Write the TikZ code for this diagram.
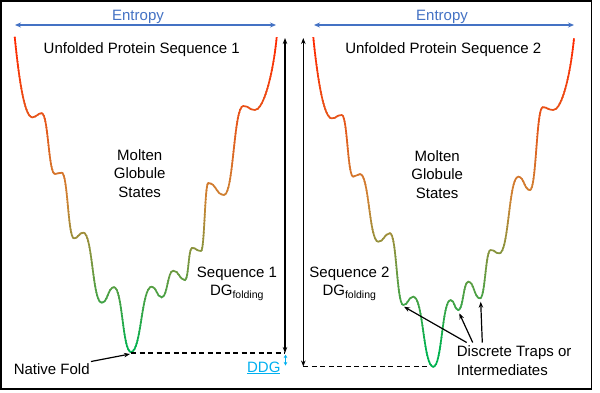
\documentclass[tikz,border=0pt]{standalone}
\usepackage{fontspec}
\setmainfont{Liberation Sans}
\usetikzlibrary{arrows.meta}
\definecolor{entblue}{RGB}{68,114,196}
\definecolor{ddgcyan}{RGB}{0,176,240}
\definecolor{ctop}{RGB}{255,40,0}
\definecolor{cmid}{RGB}{205,132,52}
\definecolor{cbot}{RGB}{0,178,80}
\tikzset{
  curvestyle/.style={line width=1.7pt},
  entarrow/.style={draw=entblue, line width=1.6pt, {Stealth[length=6pt,width=5pt]}-{Stealth[length=6pt,width=5pt]}},
  blkarrow/.style={draw=black, line width=1.3pt, {Stealth[length=6pt,width=4.5pt]}-{Stealth[length=6pt,width=4.5pt]}},
  onearrow/.style={draw=black, line width=1.2pt, -{Stealth[length=6pt,width=4.5pt]}},
  ddgarrow/.style={draw=ddgcyan, line width=1.2pt, {Stealth[length=3.5pt,width=3.5pt]}-{Stealth[length=3.5pt,width=3.5pt]}},
  dashline/.style={draw=black, line width=1.1pt, dash pattern=on 5pt off 3.5pt},
  lbl/.style={inner sep=0pt, text=black},
  curveL/.style={insert path={(14.7,36.7) .. controls +(4,40) and +(-8,0) .. (32.3,117.3)
   .. controls +(4.7,0) and +(-4.7,0) .. (41.7,113.3)
   .. controls +(6.6,0) and +(-6.6,0) .. (55,174)
   .. controls +(3.3,0) and +(-3.3,0) .. (61.7,172.7)
   .. controls +(6.1,0) and +(-6.1,0) .. (74,238.3)
   .. controls +(4.6,0) and +(-4.6,0) .. (83.3,232.7)
   .. controls +(9.2,0) and +(-9.2,0) .. (101.7,302.7)
   .. controls +(6.1,0) and +(-6.1,0) .. (114,287.3)
   .. controls +(8.5,0) and +(-8.5,0) .. (131,352)
   .. controls +(10.3,0) and +(-10.3,0) .. (151.7,286.7)
   .. controls +(5,0) and +(-5,0) .. (161.7,297.3)
   .. controls +(5.8,0) and +(-5.8,0) .. (173.3,270.7)
   .. controls +(5.8,0) and +(-5.8,0) .. (185,280)
   .. controls +(3.5,0) and +(-3.5,0) .. (192,248)
   .. controls +(4.5,0) and +(-4.5,0) .. (201,251)
   .. controls +(3.6,0) and +(-3.6,0) .. (208.3,183)
   .. controls +(7.8,0) and +(-7.8,0) .. (224,195)
   .. controls +(9.6,0) and +(-9.6,0) .. (243.3,106)
   .. controls +(5.8,0) and +(-5.8,0) .. (255,110)
   .. controls +(8,0) and +(-4,40) .. (276.7,37.3)}},
  curveR/.style={insert path={(313.3,37.3) .. controls +(4,40) and +(-8,0) .. (331.7,118.3)
   .. controls +(5,0) and +(-5,0) .. (341.7,115)
   .. controls +(5.8,0) and +(-5.8,0) .. (353.3,176.7)
   .. controls +(3.3,0) and +(-3.3,0) .. (360,174)
   .. controls +(9.1,0) and +(-9.1,0) .. (378.3,241.7)
   .. controls +(5.8,0) and +(-5.8,0) .. (390,233.3)
   .. controls +(6.6,0) and +(-6.6,0) .. (403.3,305)
   .. controls +(5,0) and +(-5,0) .. (413.3,296.7)
   .. controls +(10,0) and +(-10,0) .. (433.3,366.7)
   .. controls +(8.7,0) and +(-8.7,0) .. (450.7,300)
   .. controls +(3.8,0) and +(-3.8,0) .. (458.3,310)
   .. controls +(5,0) and +(-5,0) .. (468.3,281.7)
   .. controls +(5.8,0) and +(-5.8,0) .. (480,298.3)
   .. controls +(5.3,0) and +(-5.3,0) .. (490.7,250)
   .. controls +(4.3,0) and +(-4.3,0) .. (499.3,253.3)
   .. controls +(9.5,0) and +(-9.5,0) .. (518.3,176.7)
   .. controls +(5.8,0) and +(-5.8,0) .. (530,190)
   .. controls +(6.3,0) and +(-6.3,0) .. (542.7,107.3)
   .. controls +(5.3,0) and +(-5.3,0) .. (553.3,110)
   .. controls +(8,0) and +(-4,40) .. (574,38.3)}}
}
\begin{document}
\begin{tikzpicture}[x=1pt,y=-1pt,font=\fontsize{15}{18.35}\selectfont]
\useasboundingbox (0,0) rectangle (600,392);
\fill[white] (0,0) rectangle (600,392);
% frame
\draw[line width=1.8pt] (0.9,0.9) rectangle (591.5,389);

% gradient curves (banded)
\foreach \yy in {28,31,...,373} {
  \pgfmathsetmacro{\yc}{\yy+1.5}
  \pgfmathtruncatemacro{\pa}{max(0,min(100,(\yc-37)/(200-37)*100))}
  \pgfmathtruncatemacro{\pb}{max(0,min(100,(\yc-200)/(350-200)*100))}
  \colorlet{tmpA}{cmid!\pa!ctop}
  \colorlet{bandc}{cbot!\pb!tmpA}
  \begin{scope}
    \clip (0,\yy) rectangle (600,\yy+3.3);
    \draw[curvestyle, draw=bandc, curveL];
    \draw[curvestyle, draw=bandc, curveR];
  \end{scope}
}

% entropy
\node[lbl, text=entblue, anchor=base] (entL) at (138,20) {Entropy};
\node[lbl, text=entblue, anchor=base] (entR) at (442,20) {Entropy};
\coordinate (eLa) at (15,25); \coordinate (eLb) at (276,25);
\coordinate (eRa) at (314,25); \coordinate (eRb) at (574,25);
\draw[entarrow] (eLa) -- (eLb);
\draw[entarrow] (eRa) -- (eRb);

% titles
\node[lbl, anchor=base] (t1) at (141.7,53.7) {Unfolded Protein Sequence 1};
\node[lbl, anchor=base] (t2) at (443.3,53.7) {Unfolded Protein Sequence 2};

\node[lbl, align=center, anchor=north] (mg1) at (139.7,149.3) {Molten\\Globule\\States};
\node[lbl, align=center, anchor=north] (mg2) at (437.2,150.5) {Molten\\Globule\\States};

\node[lbl, align=center, anchor=north] (s1) at (237,266.7) {Sequence 1\\DG\textsubscript{folding}};
\node[lbl, align=center, anchor=north] (s2) at (349.5,266.7) {Sequence 2\\DG\textsubscript{folding}};

% left energy arrow and dashed line
\coordinate (Ltop) at (285,38);
\coordinate (Lbot) at (285,353);
\coordinate (gL) at (131,353);
\draw[blkarrow] (Ltop) -- (Lbot);
\draw[dashline] (gL) -- (Lbot);

% right energy arrow and dashed line
\coordinate (Rtop) at (303.3,38);
\coordinate (Rbot) at (303.3,366.5);
\coordinate (gR) at (427,366.5);
\draw[blkarrow] (Rtop) -- (Rbot);
\draw[dashline] (Rbot) -- (gR);

% DDG
\coordinate (dda) at (285.5,354.5);
\coordinate (ddb) at (285.5,365.5);
\draw[ddgarrow] (dda) -- (ddb);
\node[lbl, text=ddgcyan, anchor=base] (ddg) at (263.8,372) {\underline{DDG}};

% Native fold
\node[lbl, anchor=base] (nf) at (51.7,374.5) {Native Fold};
\coordinate (nfa) at (91,361.5);
\coordinate (nfb) at (130,354);
\draw[onearrow] (nfa) -- (nfb);

% traps
\node[lbl, align=left, anchor=north west] (dt) at (456.7,345.7) {Discrete Traps or\\Intermediates};
\coordinate (ta1) at (466.7,342.5); \coordinate (tb1) at (404,306.7);
\coordinate (ta2) at (472.7,342.5); \coordinate (tb2) at (459.3,313.3);
\coordinate (ta3) at (482.3,342.5); \coordinate (tb3) at (480.7,301.7);
\draw[onearrow] (ta1) -- (tb1);
\draw[onearrow] (ta2) -- (tb2);
\draw[onearrow] (ta3) -- (tb3);
\end{tikzpicture}
\end{document}
